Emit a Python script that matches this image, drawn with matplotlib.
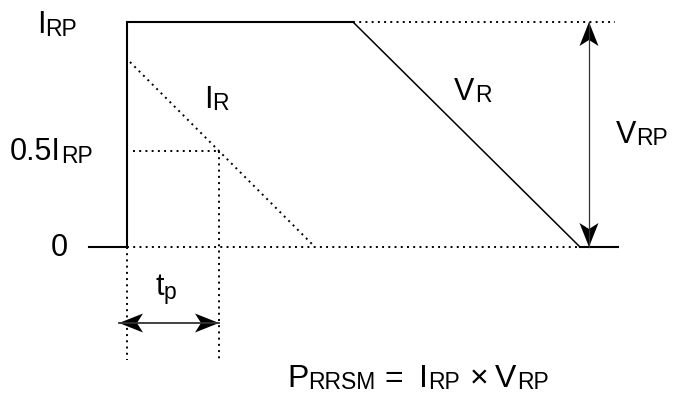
import matplotlib
matplotlib.use("Agg")
import matplotlib.pyplot as plt
import numpy as np

plt.rcParams['font.family'] = ['Liberation Sans', 'DejaVu Sans']

# ---- diagram geometry (pixel-like coordinates, y downward) ----
pulse_x = [89, 127, 127, 353]
pulse_y = [247, 247, 22, 22]
ramp_x = [353, 580]
ramp_y = [22, 247]
tail_x = [580, 618]
tail_y = [247, 247]

dotted_lines = [
    ([353, 615], [22, 22]),     # top reference
    ([127, 580], [247, 247]),   # zero reference
    ([130, 315], [62, 247]),    # I_R decay
    ([133, 218], [151, 151]),   # 0.5 I_RP
    ([219, 219], [151, 362]),   # t_p end
    ([127, 127], [247, 360]),   # t_p start
]

tp_arrow = ((119, 323), (219, 323))
vrp_arrow = ((589, 22), (589, 247))

MAIN, SUB = 22, 16.5
BIG, BIGSUB = 23, 16.5
# (text, x, baseline_y, size)
label_parts = [
    ("I", 37, 33, MAIN), ("RP", 45, 36, SUB),
    ("0.5I", 10, 160, MAIN), ("RP", 61, 163, SUB),
    ("0", 51, 256, MAIN),
    ("I", 204, 108, MAIN), ("R", 212, 110, SUB),
    ("V", 454, 100, MAIN), ("R", 475, 102, SUB),
    ("V", 616, 143, MAIN), ("RP", 636, 145, SUB),
    ("t", 155, 295, MAIN), ("p", 164, 299, SUB),
    ("P", 287, 387, BIG), ("RRSM", 308, 389, BIGSUB),
    ("=", 384, 387, BIG), ("I", 419, 387, BIG), ("RP", 428, 389, BIGSUB),
    ("\u00d7", 470, 387, BIG), ("V", 495, 387, BIG), ("RP", 517, 389, BIGSUB),
]

W, H = 678, 396
fig = plt.figure(figsize=(W / 100, H / 100), dpi=100)
ax = fig.add_axes([0, 0, 1, 1])
ax.set_xlim(0, W)
ax.set_ylim(H, 0)
ax.axis('off')

lw_thick = 1.5
ax.plot(pulse_x, pulse_y, color='black', lw=lw_thick, solid_joinstyle='miter')
ax.plot(ramp_x, ramp_y, color='black', lw=1.1)
ax.plot(tail_x, tail_y, color='black', lw=lw_thick)
for xs, ys in dotted_lines:
    ax.plot(xs, ys, color='black', lw=1.4, linestyle=(0, (1, 2.2)))


def stealth(tip, back, length=24, half=9.5, notch=6):
    tip = np.array(tip, float)
    d = np.array(back, float) - tip
    d /= np.hypot(*d)
    n = np.array([-d[1], d[0]])
    base = tip + d * length
    pts = [tip, base + n * half, tip + d * (length - notch), base - n * half]
    ax.fill([p[0] for p in pts], [p[1] for p in pts], color='black', lw=0)


def double_arrow(a, b, lw, color):
    ax.plot([a[0], b[0]], [a[1], b[1]], color=color, lw=lw)
    stealth(a, b)
    stealth(b, a)


double_arrow(*tp_arrow, lw=1.3, color='#333333')
double_arrow(*vrp_arrow, lw=0.9, color='#333333')

for txt, x, y, size in label_parts:
    ax.text(x, y, txt, fontsize=size, va='baseline', ha='left', color='black')

fig.savefig('out.png', dpi=100)
